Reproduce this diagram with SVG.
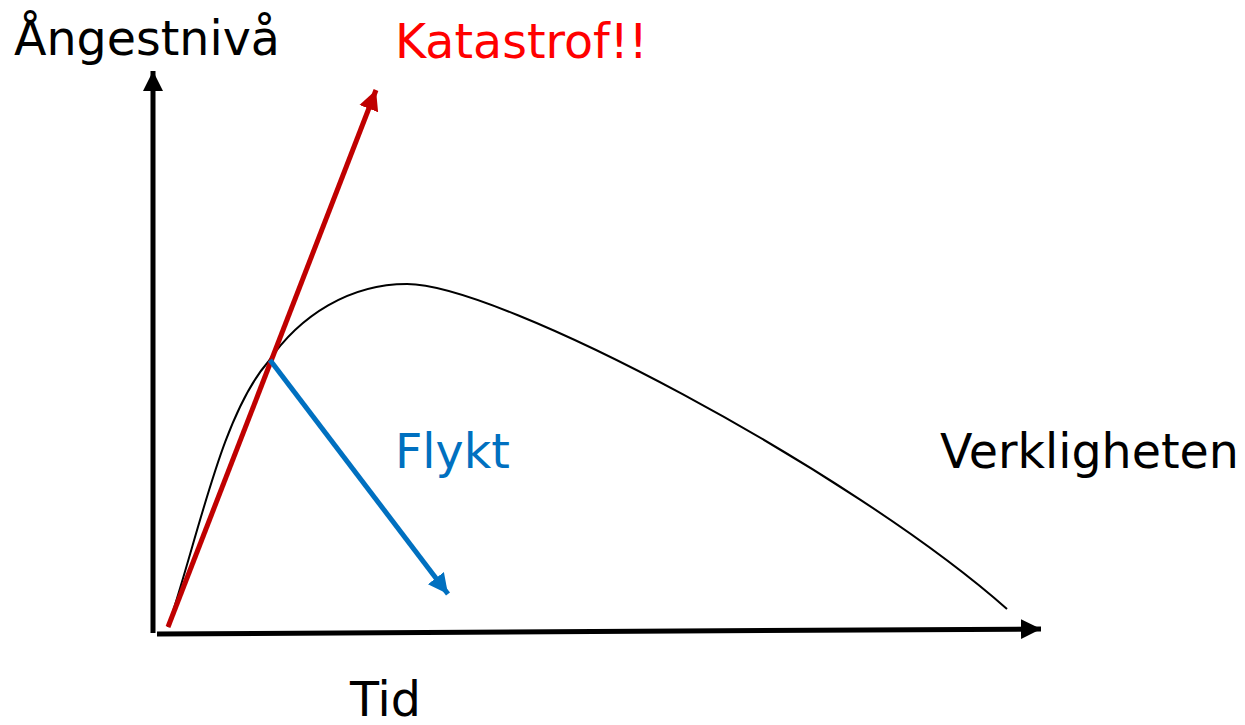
<svg xmlns="http://www.w3.org/2000/svg" width="1245" height="725" viewBox="0 0 1245 725">
<style>
text{font-family:"DejaVu Sans","Verdana",sans-serif;font-size:47.5px}
.ax{stroke:#000;stroke-width:5;fill:none}
.red{stroke:#C00000;stroke-width:5;fill:none}
.blue{stroke:#0070C0;stroke-width:5;fill:none}
</style>
<defs>
<marker id="hk" markerUnits="userSpaceOnUse" markerWidth="22" markerHeight="22" viewBox="0 0 22 22" refX="20" refY="11" orient="auto"><path d="M0,1 L20,11 L0,21 Z" fill="#000"/></marker>
<marker id="hr" markerUnits="userSpaceOnUse" markerWidth="22" markerHeight="22" viewBox="0 0 22 22" refX="20" refY="11" orient="auto"><path d="M0,1 L20,11 L0,21 Z" fill="#C00000"/></marker>
<marker id="hb" markerUnits="userSpaceOnUse" markerWidth="22" markerHeight="22" viewBox="0 0 22 22" refX="20" refY="11" orient="auto"><path d="M0,1 L20,11 L0,21 Z" fill="#0070C0"/></marker>
</defs>
<g id="connectors">
<line id="y-axis" class="ax" x1="153" y1="633" x2="153" y2="71" marker-end="url(#hk)"/>
<line id="x-axis" class="ax" x1="157" y1="634" x2="1041" y2="629" marker-end="url(#hk)"/>
<path id="reality" d="M168,627 C200,530 222,415 268,362 C300,315 350,284 407,284 C500,284 850,470 1007,609" stroke="#000" stroke-width="2" fill="none"/>
<line id="catastrophe" class="red" x1="168" y1="627" x2="376" y2="90" marker-end="url(#hr)"/>
<line id="escape" class="blue" x1="270" y1="360" x2="448" y2="594" marker-end="url(#hb)"/>
</g>
<g id="label-y"><text x="14" y="55">Ångestnivå</text></g>
<g id="label-cat"><text x="395" y="58" fill="#FF0000">Katastrof!!</text></g>
<g id="label-flykt"><text x="395" y="468" fill="#0070C0">Flykt</text></g>
<g id="label-real"><text x="940" y="468">Verkligheten</text></g>
<g id="label-x"><text x="350" y="716">Tid</text></g>
</svg>
